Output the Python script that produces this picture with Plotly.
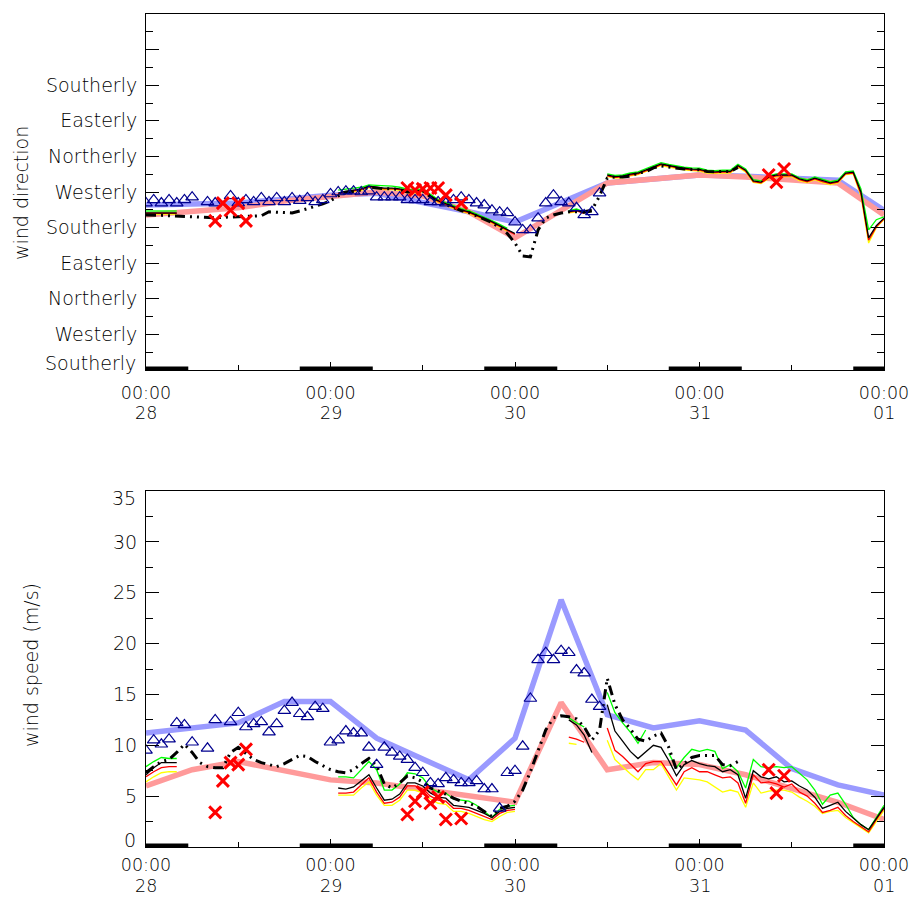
import plotly.graph_objects as go

# ---------------- data ----------------
# hours since 28th 00:00
MODEL6_H = [0, 6, 12, 18, 24, 30, 36, 42, 48, 54, 60, 66, 72, 78, 84, 90, 96]
BLUE_SPD = [11.2, 11.7, 12.2, 14.3, 14.3, 10.7, 8.7, 6.6, 10.7, 24.3, 13.0, 11.7, 12.4, 11.5, 7.7, 6.1, 5.1]
PINK_SPD = [6.0, 7.6, 8.4, 7.5, 6.6, 6.3, 5.7, 5.0, 4.4, 14.2, 7.6, 8.3, 8.1, 7.1, 5.8, 4.4, 2.7]
BLUE_DIR = [417, 420, 422, 432, 442, 447, 425, 400, 374, 425, 473, 483, 493, 490, 485, 480, 404]
PINK_DIR = [392, 402, 410, 427, 440, 450, 440, 400, 334, 402, 473, 483, 493, 488, 480, 473, 392]

OBS_H = [0, 1, 2, 3, 4, 5, 6, 8, 9, 11, 12, 13, 14, 15, 16, 17, 18, 19, 20, 21, 22, 23,
         24, 25, 26, 27, 28, 29, 30, 31, 32, 33, 34, 35, 36, 37, 38, 39, 40, 41, 42, 43,
         44, 45, 46, 47, 48, 49, 50, 51, 52, 53, 54, 55, 56, 57, 58, 59]
OBS_SPD = [9.5, 10.5, 10.1, 10.6, 12.2, 12.0, 10.3, 9.7, 12.5, 12.3, 13.2, 11.8, 12.1, 12.3,
           11.3, 12.1, 13.4, 14.2, 13.1, 12.8, 13.8, 13.6, 10.3, 10.5, 11.4, 11.2, 11.2, 9.8,
           8.1, 9.8, 9.3, 8.9, 8.6, 7.8, 7.3, 6.3, 6.2, 6.8, 6.6, 6.3, 6.3, 6.5, 5.7, 5.7,
           3.8, 7.3, 7.5, 9.9, 14.6, 18.4, 19.1, 18.4, 19.3, 19.1, 17.4, 17.1, 14.5, 13.8]
OBS_DIR = [422, 430, 422, 430, 422, 430, 437, 425, 422, 440, 422, 430, 425, 435, 425, 435,
           425, 435, 428, 435, 425, 430, 445, 450, 452, 452, 450, 452, 437, 437, 437, 437,
           430, 430, 430, 425, 425, 422, 430, 437, 430, 422, 417, 404, 399, 397, 374, 354,
           354, 384, 422, 442, 425, 422, 410, 392, 400, 447]

X_H = [9, 10, 11, 12, 13, 34, 35, 36, 37, 38, 39, 41, 81, 82, 83]
X_SPD = [3.4, 6.5, 8.3, 8.1, 9.6, 3.2, 4.5, 5.4, 4.3, 4.9, 2.7, 2.8, 7.6, 5.3, 7.0]
X_DIR = [377, 422, 404, 422, 377, 460, 455, 458, 460, 460, 442, 422, 493, 475, 508]

THIN_H = [0, 1, 2, 3, 4, None,
          25, 26, 27, 28, 29, 30, 31, 32, 33, 34, 35, 36, 37, 38, 39, 40, 41, 42, 43, 44, 45, 46, 47, 48, None,
          55, 56, 57, 58, None,
          60, 61, 62, 63, 64, 65, 66, 67, 68, 69, 70, 71, 72, 73, 74, 75, 76, 77, 78, 79,
          80, 81, 82, 83, 84, 85, 86, 87, 88, 89, 90, 91, 92, 93, 94, 95, 96]

SPD_BLACK = [7.1, 7.8, 8.3, 8.3, 8.3, None,
             5.8, 5.7, 5.9, 6.5, 7.1, 5.8, 4.6, 4.7, 5.2, 6.3, 6.3, 6.0, 5.3, 4.9, 4.8, 4.1, 4.0, 3.9, 3.6, 3.3, 2.9, 3.5, 3.8, 3.9, None,
             12.5, 12.0, 11.0, 9.3, None,
             14.0, 11.4, 10.4, 9.4, 8.7, 9.4, 10.0, 9.8, 8.5, 7.0, 8.1, 8.5, 8.2, 8.0, 7.9, 7.4, 7.6, 7.1, 4.8, 7.5,
             6.9, 6.7, 6.9, 6.4, 6.5, 6.0, 5.6, 4.9, 3.8, 4.1, 4.4, 3.5, 2.8, 2.2, 1.7, 2.8, 3.9]
SPD_GREEN = [7.9, 8.4, 8.8, 8.7, 8.7, None,
             6.9, 6.9, 6.8, 7.6, 8.4, 7.6, 5.6, 5.6, 6.2, 7.3, 7.2, 6.8, 5.8, 5.4, 5.3, 4.7, 4.6, 4.5, 4.1, 3.5, 2.9, 3.7, 4.0, 4.1, None,
             12.7, 12.2, 11.8, None, None,
             15.2, 13.2, 12.2, 11.3, 10.2, 11.5, None, None, 9.2, 7.8, 8.8, 9.6, 9.4, 9.6, 9.4, 7.7, 8.1, 7.4, 5.8, 8.6,
             7.9, 7.8, 7.9, 7.8, 7.9, 7.2, 6.6, 5.6, 4.2, 5.1, 5.3, 4.2, 2.9, 2.2, 1.7, 2.9, 4.1]
SPD_RED = [6.9, 7.4, 7.8, 7.9, 7.9, None,
           5.3, 5.3, 5.4, 6.1, 6.8, 5.4, 4.3, 4.4, 4.9, 6.0, 6.0, 5.7, 5.0, 4.6, 4.5, 3.8, 3.8, 3.6, 3.3, 3.0, 2.7, 3.3, 3.6, 3.7, None,
           10.8, 10.6, 10.3, None, None,
           11.7, 9.5, 8.9, 8.1, 7.4, 8.2, 8.4, 8.4, 7.2, 6.1, 7.4, 7.8, 7.4, 7.4, 7.1, 6.8, 6.9, 6.3, 4.3, 7.1,
           6.3, 6.4, 6.2, 5.9, 6.2, 5.4, 5.0, 4.3, 3.4, 3.6, 3.9, 3.1, 2.5, 2.0, 1.5, 2.7, 3.8]
SPD_YELLOW = [6.4, 6.9, 7.3, 7.4, 7.4, None,
              5.1, 5.1, 5.1, 5.8, 6.4, 5.1, 4.1, 4.1, 4.6, 5.6, 5.6, 5.3, 4.7, 4.3, 4.2, 3.5, 3.5, 3.3, 3.0, 2.7, 2.5, 3.0, 3.4, 3.5, None,
              10.2, 10.1, None, None, None,
              10.5, 8.6, 7.9, 7.2, 6.6, 7.6, 7.6, 8.2, 6.9, 5.6, 6.8, 6.7, 6.6, 6.4, 5.9, 5.4, 5.6, 5.4, 3.9, 6.3,
              5.3, 5.5, 5.6, 5.6, 5.4, 4.9, 4.5, 4.0, 3.3, 3.5, 3.6, 2.9, 2.4, 1.9, 1.4, 2.5, 3.6]

DIR_BLACK = [397, 397, 398, 397, 397, None,
             447, 452, 455, 458, 465, 462, 460, 460, 458, 452, 452, 455, 440, 428, 420, 412, 405, 400, 392, 385, 375, 365, 355, 345, None,
             400, 404, 397, 400, None,
             493, 489, 490, 495, 498, 505, 513, 521, 517, 513, 510, 508, 507, 502, 501, 502, 502, 517, 505, 478,
             475, 488, 493, 493, 493, 483, 478, 485, 478, 473, 477, 498, 500, 450, 334, 365, 384]
DIR_GREEN = [402, 402, 403, 402, 402, None,
             455, 458, 460, 462, 468, 467, 466, 465, 462, 457, 456, 458, 444, 431, 423, 415, 408, 403, 395, 388, 378, 368, 358, None, None,
             403, 407, 400, None, None,
             496, 492, 493, 498, 501, 508, 516, 524, 520, 516, 513, 511, 510, 505, 504, 505, 505, 520, 508, 481,
             478, 491, 496, 496, 496, 486, 481, 488, 481, 476, 480, 501, 503, 458, 354, 380, 387]
DIR_RED = [396, 396, 397, 396, 396, None,
           445, 450, 453, 456, 463, 460, 458, 458, 456, 450, 450, 453, 438, 426, 418, 410, 403, 398, 390, 383, 373, 363, 353, 343, None,
           399, 402, 396, None, None,
           491, 487, 488, 493, 496, 503, 511, 519, 515, 511, 508, 506, 505, 500, 499, 500, 500, 515, 503, 476,
           473, 486, 491, 491, 491, 481, 476, 483, 476, 471, 475, 496, 498, 445, 328, 362, 382]
DIR_YELLOW = [394, 394, 395, 394, 394, None,
              443, 448, 451, 454, 461, 458, 456, 456, 454, 448, 448, 451, 436, 424, 416, 408, 401, 396, 388, 381, 371, 361, 351, None, None,
              397, 400, None, None, None,
              489, 485, 486, 491, 494, 501, 509, 517, 513, 509, 506, 504, 503, 498, 497, 498, 498, 513, 501, 474,
              471, 484, 489, 489, 489, 479, 474, 481, 474, 469, 473, 494, 496, 440, 321, 360, 380]

DD_H = [0, 1, 2, 3, 4, 5, 6, 7, 8, 9, 10, 11, 12, 13, 14, 15, 16, 17, 18, 19,
        20, 21, 22, 23, 24, 25, 26, 27, 28, 29, 30, 31, 32, 33, 34, 35, 36, 37, 38, 39,
        40, 41, 42, 43, 44, 45, 46, 47, 48, 49, 50, 51, 52, 53, 54, 55, 56, 57, 58, 59,
        60, 61, 62, 63, 64, 65, 66, 67, 68, 69, 70, 71, 72, 73, 74, 75, 76, 77]
DD_SPD = [7.3, 7.9, 8.4, 8.6, 9.3, 10.1, 9.3, 8.3, 7.9, 7.8,
          7.8, 9.3, 9.8, 9.2, 8.6, 8.3, 8.1, 7.9, 8.2, 8.6,
          9.0, 8.9, 8.4, 8.0, 7.6, 7.4, 7.3, 7.6, 8.2, 8.7,
          8.0, 6.2, 5.8, 6.3, 7.0, 6.8, 6.4, 5.8, 5.5, 5.2,
          4.8, 4.5, 4.3, 4.0, 3.5, 3.0, 3.8, 4.0, 4.5, 5.6,
          7.4, 9.5, 11.5, 12.7, 12.9, 12.8, 12.6, 11.8, 10.5, 11.5,
          16.6, 14.0, 12.5, 11.6, 10.6, 10.4, 10.9, 11.2, 9.8, 7.6,
          8.2, 8.8, 9.0, 9.0, 9.0, 8.1, 8.0, 8.4]
DD_DIR = [392, 392, 391, 390, 389, 388, 387, 386, 385, 385,
          386, 387, 388, 388, 389, 390, 400, 399, 398, 397,
          402, 408, 414, 420, 428, 440, 448, 452, 455, 462,
          460, 458, 458, 456, 450, 450, 453, 438, 426, 418,
          410, 403, 398, 390, 383, 373, 360, 345, 321, 288,
          286, 354, 384, 392, 397, 400, 400, 400, 404, 440,
          485, 488, 488, 490, 498, 501, 511, 516, 513, 510,
          508, 507, 506, 502, 501, 502, 502, 512]

NIGHT_START = [0, 20, 44, 68, 92]
NIGHT_END = [5.5, 29.5, 53.5, 77.5, 96]

DAY_TICKS = [0, 24, 48, 72, 96]
DAY_LABELS = ["28", "29", "30", "31", "01"]
DIR_TICKS = [0, 90, 180, 270, 360, 450, 540, 630, 720, 810, 900]
DIR_LABELS = ["Southerly", "Westerly", "Northerly", "Easterly", "Southerly",
              "Westerly", "Northerly", "Easterly", "Southerly", "", ""]
SPD_TICKS = [0, 5, 10, 15, 20, 25, 30, 35]

# ---------------- styles ----------------
FONT = dict(family="DejaVu Sans", size=19, color="black", weight=200)
XFONT = dict(family="DejaVu Sans", size=17.5, color="black", weight=200)
BLUE = "#9a9aff"
PINK = "#ff9a9a"
NAVY = "#00008f"
DASHDOT = "10px,5px,2px,5px,2px,5px"

# the page adds an 8px body margin, so the figure is shrunk by that much
PAGE_OFF = 8
FIG_W, FIG_H = 917 - PAGE_OFF, 897 - PAGE_OFF
PLOT_L, PLOT_R, PLOT_T, PLOT_B = 146, 884, 14, 847   # wanted page pixels

fig = go.Figure()


def add_panel(xa, ya, blue, pink, obs, xs, thin, dd):
    kw = dict(xaxis=xa, yaxis=ya, showlegend=False, hoverinfo="skip")
    fig.add_trace(go.Scatter(x=MODEL6_H, y=blue, mode="lines",
                             line=dict(color=BLUE, width=5.5), **kw))
    fig.add_trace(go.Scatter(x=MODEL6_H, y=pink, mode="lines",
                             line=dict(color=PINK, width=5.5), **kw))
    for vals, col in zip(thin, ["#ffff00", "#ff0000", "#00ff00", "#000000"]):
        fig.add_trace(go.Scatter(x=THIN_H, y=vals, mode="lines",
                                 line=dict(color=col, width=1.3), **kw))
    fig.add_trace(go.Scatter(x=DD_H, y=dd, mode="lines",
                             line=dict(color="black", width=3, dash=DASHDOT), **kw))
    fig.add_trace(go.Scatter(x=OBS_H, y=obs, mode="markers",
                             marker=dict(symbol="triangle-up-open", size=11,
                                         color=NAVY, line=dict(width=1.2, color=NAVY)), **kw))
    fig.add_trace(go.Scatter(x=X_H, y=xs, mode="markers",
                             marker=dict(symbol="x-thin", size=12, color="red",
                                         line=dict(width=3, color="red")), **kw))
    # night bars on the time axis
    for s, e in zip(NIGHT_START, NIGHT_END):
        fig.add_trace(go.Scatter(x=[s, e], y=[0, 0], mode="lines", cliponaxis=False,
                                 line=dict(color="black", width=7), **kw))


add_panel("x", "y", BLUE_DIR, PINK_DIR, OBS_DIR, X_DIR,
          [DIR_YELLOW, DIR_RED, DIR_GREEN, DIR_BLACK], DD_DIR)
add_panel("x2", "y2", BLUE_SPD, PINK_SPD, OBS_SPD, X_SPD,
          [SPD_YELLOW, SPD_RED, SPD_GREEN, SPD_BLACK], DD_SPD)

xcommon = dict(range=[0, 96], tickvals=DAY_TICKS, ticktext=["00:00"] * 5,
               ticks="inside", ticklen=8, tickwidth=1, tickcolor="black",
               minor=dict(ticks="inside", ticklen=5, dtick=12, tick0=0, tickcolor="black"),
               showline=True, linecolor="black", linewidth=1, mirror=True,
               showgrid=False, zeroline=False, tickfont=XFONT, automargin=False)
ycommon = dict(ticks="inside", ticklen=13, tickwidth=1, tickcolor="black",
               showline=True, linecolor="black", linewidth=1, mirror="ticks",
               showgrid=False, zeroline=False, tickfont=FONT, ticklabelstandoff=4,
               automargin=False)

plot_h = PLOT_B - PLOT_T
TOP_DOM = [(PLOT_B - 370) / plot_h, 1.0]
BOT_DOM = [0.0, (PLOT_B - 491) / plot_h]

fig.update_layout(
    width=FIG_W, height=FIG_H,
    margin=dict(l=PLOT_L - PAGE_OFF, r=FIG_W - (PLOT_R - PAGE_OFF),
                t=PLOT_T - PAGE_OFF, b=FIG_H - (PLOT_B - PAGE_OFF), autoexpand=False),
    paper_bgcolor="white", plot_bgcolor="white",
    font=FONT,
    xaxis=dict(domain=[0, 1], anchor="y", ticklabelstandoff=7, **xcommon),
    yaxis=dict(domain=TOP_DOM, anchor="x", range=[0, 900], tickvals=DIR_TICKS,
               ticktext=[""] + DIR_LABELS[1:],
               minor=dict(ticks="inside", ticklen=7, dtick=45, tick0=0, tickcolor="black"),
               **ycommon),
    xaxis2=dict(domain=[0, 1], anchor="y2", ticklabelstandoff=2, **xcommon),
    yaxis2=dict(domain=BOT_DOM, anchor="x2", range=[0, 35], tickvals=SPD_TICKS,
                ticktext=[""] + [str(v) for v in SPD_TICKS[1:-1]] + [""],
                minor=dict(ticks="inside", ticklen=7, dtick=2.5, tick0=0, tickcolor="black"),
                **ycommon),
)

pw = PLOT_R - PLOT_L
annotations = []
# edge tick labels shifted inward, as in the original
annotations.append(dict(text=DIR_LABELS[0], xref="paper", yref="y", x=0, y=0, xanchor="right",
                        yanchor="middle", xshift=-8, yshift=7, showarrow=False, font=FONT))
annotations.append(dict(text=str(SPD_TICKS[0]), xref="paper", yref="y2", x=0, y=0, xanchor="right",
                        yanchor="middle", xshift=-8, yshift=7, showarrow=False, font=FONT))
annotations.append(dict(text=str(SPD_TICKS[-1]), xref="paper", yref="y2", x=0, y=35, xanchor="right",
                        yanchor="middle", xshift=-8, yshift=-7, showarrow=False, font=FONT))
# day numbers under the 00:00 labels
for xr, yr, sh in [("x", "y domain", -43), ("x2", "y2 domain", -38.5)]:
    for d, lab in zip(DAY_TICKS, DAY_LABELS):
        annotations.append(dict(text=lab, xref=xr, yref=yr, x=d, y=0, xanchor="center",
                                yanchor="middle", yshift=sh, showarrow=False, font=XFONT))
# axis titles
annotations.append(dict(text="wind direction", xref="paper", yref="paper",
                        x=(21 - PLOT_L) / pw, y=(PLOT_B - 193) / plot_h, textangle=-90,
                        xanchor="center", yanchor="middle", showarrow=False, font=FONT))
annotations.append(dict(text="wind speed (m/s)", xref="paper", yref="paper",
                        x=(31 - PLOT_L) / pw, y=(PLOT_B - 665) / plot_h, textangle=-90,
                        xanchor="center", yanchor="middle", showarrow=False, font=FONT))
fig.update_layout(annotations=annotations)

fig.write_html("out.html")
